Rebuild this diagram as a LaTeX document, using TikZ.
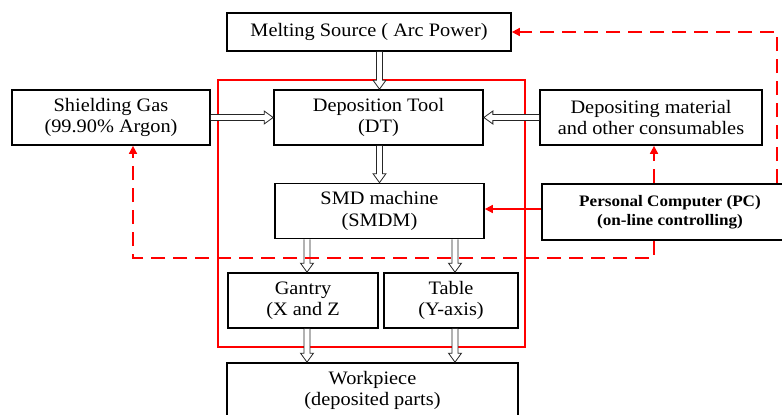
\documentclass[tikz,border=0pt]{standalone}
\usepackage{fontspec}
\setmainfont[FakeStretch=1.07]{Liberation Serif}
\usetikzlibrary{calc,arrows.meta}
\newcommand\mainfs{\fontsize{19}{21.5}\selectfont}
\newcommand\pcfs{\fontsize{16}{18.5}\selectfont\bfseries}
\newcommand\hsw{3pt}
\newcommand\hhw{6.5pt}
\newcommand\hlen{9pt}
\tikzset{
  box/.style={draw, line width=1.7pt, align=center, inner sep=0pt, minimum height=55pt, font=\mainfs},
  hollow/.style={draw=black!85, fill=white, line width=0.8pt, line join=miter,
    to path={
      ($(\tikztostart)!\hsw!90:(\tikztotarget)$)
      -- ($($(\tikztotarget)!\hlen!(\tikztostart)$)!\hsw!90:(\tikztotarget)$)
      -- ($($(\tikztotarget)!\hlen!(\tikztostart)$)!\hhw!90:(\tikztotarget)$)
      -- (\tikztotarget)
      -- ($($(\tikztotarget)!\hlen!(\tikztostart)$)!\hhw!-90:(\tikztotarget)$)
      -- ($($(\tikztotarget)!\hlen!(\tikztostart)$)!\hsw!-90:(\tikztotarget)$)
      -- ($(\tikztostart)!\hsw!-90:(\tikztotarget)$)
    }},
  ctl/.style={red, line width=1.6pt, -{Triangle[length=8pt,width=8pt]}},
  ctld/.style={ctl, dash pattern=on 14pt off 8pt},
  frame/.style={red, line width=1.4pt}
}
\begin{document}
\begin{tikzpicture}[x=1pt,y=-1pt]
\clip (0,0) rectangle (782,415);
\fill[white] (0,0) rectangle (782,415);
% frame
\draw[frame] (218,80) rectangle (525,347);
% boxes
\node[box, minimum width=284pt, minimum height=38pt] (ms) at (369,32) {Melting Source ( Arc Power)};
\node[box, minimum width=198pt] (sg) at (111,117.5) {Shielding Gas\\(99.90\% Argon)};
\node[box, minimum width=209pt] (dt) at (378.5,117.5) {Deposition Tool\\(DT)};
\node[box, minimum width=222pt] (dm) at (651,117.5) {Depositing material\\and other consumables};
\node[box, minimum width=209pt] (smd) at (379.5,211) {SMD machine\\(SMDM)};
\node[box, minimum width=256pt, minimum height=56pt, font=\pcfs] (pc) at (670,212) {Personal Computer (PC)\\(on-line controlling)};
\node[box, minimum width=150pt] (ga) at (303,300.5) {Gantry\\(X and Z};
\node[box, minimum width=134pt] (tb) at (451,300.5) {Table\\(Y-axis)};
\node[box, minimum width=291pt] (wp) at (372.5,390.5) {Workpiece\\(deposited parts)};
% hollow arrows
\draw[hollow] ([xshift=1pt]dt.north |- ms.south) to ([xshift=1pt]dt.north);
\draw[hollow] ([xshift=1pt]dt.south) to ([xshift=1pt]dt.south |- smd.north);
\draw[hollow] (sg.east) to (dt.west);
\draw[hollow] (dm.west) to (dt.east);
\draw[hollow] ([xshift=4pt]ga.north |- smd.south) to ([xshift=4pt]ga.north);
\draw[hollow] ([xshift=4pt]tb.north |- smd.south) to ([xshift=4pt]tb.north);
\draw[hollow] ([xshift=4pt]ga.south) to ([xshift=4pt]ga.south |- wp.north);
\draw[hollow] ([xshift=4pt]tb.south) to ([xshift=4pt]tb.south |- wp.north);
% control lines
\coordinate (rt) at (777,33);
\coordinate (gl) at (133,258);
\draw[ctl] ([yshift=2pt]smd.east -| pc.west) -- ([yshift=2pt]smd.east);
\draw[ctld] ([xshift=3pt]dm.south |- pc.north) -- ([xshift=3pt]dm.south);
\draw[ctld] (rt |- pc.north) |- (ms.east);
\draw[ctld] ([xshift=3pt]dm.south |- pc.south) |- (gl) -- (gl |- sg.south);
\end{tikzpicture}
\end{document}
